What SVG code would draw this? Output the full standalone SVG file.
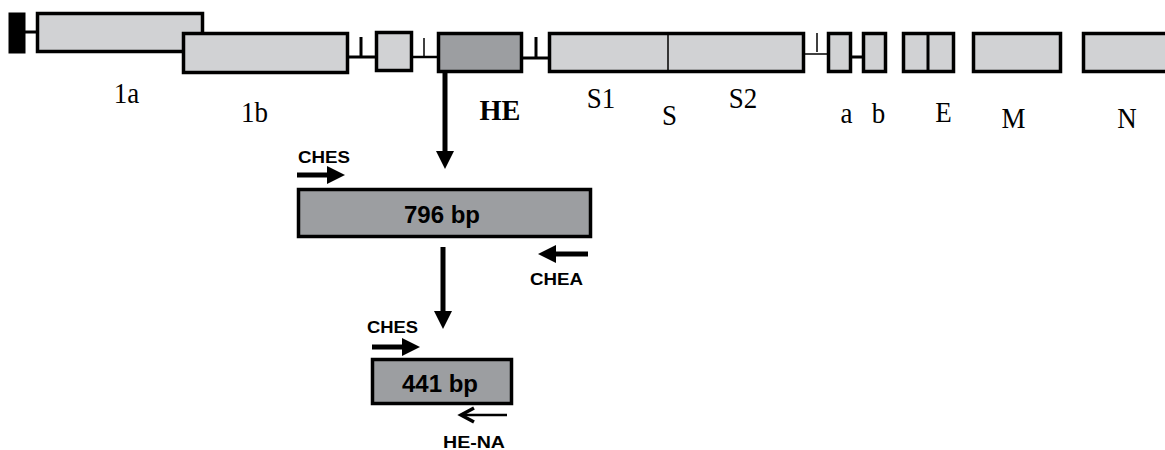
<svg xmlns="http://www.w3.org/2000/svg" width="1165" height="450" viewBox="0 0 1165 450">
<style>
.ex{fill:#d1d2d4;stroke:#000;stroke-width:3.5}
.dk{fill:#9c9ea1;stroke:#000;stroke-width:3.5}
.ln{stroke:#000;fill:none}
.lab{font-family:"Liberation Serif","Times New Roman",serif;font-size:27px;fill:#000;text-anchor:middle}
.sl{font-family:"Liberation Sans",Arial,sans-serif;font-weight:bold;fill:#000}
.shaft{stroke:#000;stroke-width:5;fill:none}
</style>
<defs>
<marker id="ah" viewBox="0 0 18 18" markerWidth="18" markerHeight="18" refX="0" refY="9" orient="auto" markerUnits="userSpaceOnUse">
<path d="M0,0 L18,9 L0,18 z" fill="#000"/>
</marker>
</defs>
<rect x="0" y="0" width="1165" height="450" fill="#fff"/>

<g id="gene-map">
<g id="leader"><rect x="8.5" y="12.5" width="17" height="41" fill="#000"/></g>
<g id="introns">
<line class="ln" x1="25" y1="32" x2="37" y2="32" stroke-width="3"/>
<line class="ln" x1="349" y1="57" x2="375" y2="57" stroke-width="3"/>
<line class="ln" x1="361" y1="37" x2="361" y2="57" stroke-width="3"/>
<line class="ln" x1="413" y1="57" x2="437" y2="57" stroke-width="2.5"/>
<line class="ln" x1="424" y1="38" x2="424" y2="57" stroke-width="1.5"/>
<line class="ln" x1="523" y1="58" x2="548" y2="58" stroke-width="3"/>
<line class="ln" x1="536" y1="37" x2="536" y2="58" stroke-width="3"/>
<line class="ln" x1="805" y1="54" x2="827" y2="54" stroke-width="1.5"/>
<line class="ln" x1="817" y1="33" x2="817" y2="52" stroke-width="1.5"/>
<line class="ln" x1="852" y1="57" x2="862" y2="57" stroke-width="3"/>
</g>
<g id="exon-1a"><rect class="ex" x="37.5" y="13.5" width="165" height="38"/><text class="lab" transform="translate(126.5,103) scale(1,1.12)">1a</text></g>
<g id="exon-1b"><rect class="ex" x="183.5" y="33.5" width="164" height="39"/><text class="lab" transform="translate(254.5,122) scale(1,1.12)">1b</text></g>
<g id="exon-small"><rect class="ex" x="376.5" y="32.5" width="35" height="38"/></g>
<g id="exon-HE"><rect class="dk" x="438.5" y="33.5" width="83" height="38"/><text class="lab" transform="translate(500,120) scale(1.05,1.12)" font-weight="bold">HE</text></g>
<g id="exon-S"><rect class="ex" x="549.5" y="33.5" width="254" height="38"/><line class="ln" x1="668" y1="34" x2="668" y2="71" stroke-width="1.5"/>
<text class="lab" transform="translate(601,108) scale(1,1.12)">S1</text><text class="lab" transform="translate(669.5,125) scale(1,1.12)">S</text><text class="lab" transform="translate(743,108) scale(1,1.12)">S2</text></g>
<g id="exon-a"><rect class="ex" x="828.5" y="33.5" width="22" height="38"/><text class="lab" transform="translate(846.5,123) scale(1,1.12)">a</text></g>
<g id="exon-b"><rect class="ex" x="863.5" y="33.5" width="22" height="38"/><text class="lab" transform="translate(878.5,123) scale(1,1.12)">b</text></g>
<g id="exon-E"><rect class="ex" x="903.5" y="33.5" width="50" height="38"/><line class="ln" x1="928" y1="34" x2="928" y2="71" stroke-width="3"/><text class="lab" transform="translate(943.5,122) scale(1,1.12)">E</text></g>
<g id="exon-M"><rect class="ex" x="973.5" y="33.5" width="87" height="38"/><text class="lab" transform="translate(1013.5,128) scale(1,1.12)">M</text></g>
<g id="exon-N"><rect class="ex" x="1083.5" y="33.5" width="90" height="38"/><text class="lab" transform="translate(1127,128) scale(1,1.12)">N</text></g>
</g>

<g id="amplicon-796">
<rect class="dk" x="298.5" y="189.5" width="292" height="47" fill="#9fa1a4"/>
<text class="sl" x="442" y="223" font-size="24" text-anchor="middle">796 bp</text>
</g>
<g id="amplicon-441">
<rect class="dk" x="372.5" y="359.5" width="139" height="44" fill="#9fa1a4"/>
<text class="sl" x="440" y="392" font-size="23" text-anchor="middle" textLength="76" lengthAdjust="spacingAndGlyphs">441 bp</text>
</g>
<g id="primer-CHES-1"><text class="sl" x="298" y="163" font-size="16" textLength="52" lengthAdjust="spacingAndGlyphs">CHES</text></g>
<g id="primer-CHEA"><text class="sl" x="530" y="285" font-size="16" textLength="53" lengthAdjust="spacingAndGlyphs">CHEA</text></g>
<g id="primer-CHES-2"><text class="sl" x="367" y="333" font-size="16" textLength="51" lengthAdjust="spacingAndGlyphs">CHES</text></g>
<g id="primer-HE-NA"><text class="sl" x="443" y="448" font-size="16" textLength="62" lengthAdjust="spacingAndGlyphs">HE-NA</text></g>

<g id="connectors">
<line class="shaft" x1="445" y1="73" x2="445" y2="151" marker-end="url(#ah)"/>
<line class="shaft" x1="443" y1="247" x2="443" y2="311" marker-end="url(#ah)"/>
<line class="shaft" x1="297" y1="175" x2="327" y2="175" marker-end="url(#ah)"/>
<line class="shaft" x1="372" y1="347" x2="402" y2="347" marker-end="url(#ah)"/>
<line class="shaft" x1="588" y1="254" x2="556" y2="254" marker-end="url(#ah)"/>
<line class="ln" x1="462" y1="415" x2="507" y2="415" stroke-width="2.5"/>
<polyline class="ln" points="474,408 461,415 474,422" stroke-width="3.5"/>
</g>
</svg>
